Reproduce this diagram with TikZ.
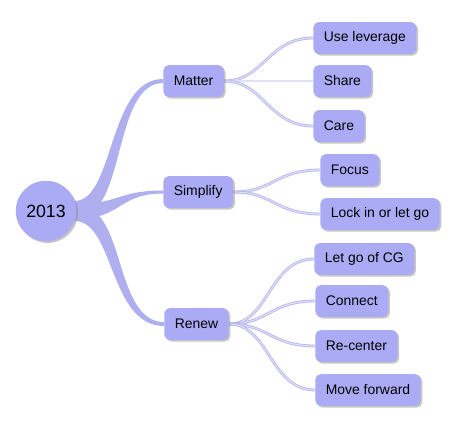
\documentclass[tikz,border=0pt]{standalone}
\usepackage{fontspec}
\setmainfont{Liberation Sans}
\usetikzlibrary{shadows,backgrounds}
\definecolor{mapfill}{RGB}{170,170,245}
\definecolor{mapbranch}{RGB}{175,175,240}
\definecolor{maplink}{RGB}{180,180,236}

\begin{document}
\begin{tikzpicture}[
  x=0.025cm, y=-0.025cm,
  % Node styles
  rootnode/.style={circle, fill=mapfill, minimum size=43pt, inner sep=0pt,
    font=\fontsize{12.6}{14}\selectfont,
    drop shadow={shadow xshift=1.2pt, shadow yshift=-1.2pt, opacity=0.45}},
  topicbox/.style={rectangle, rounded corners=4pt, fill=mapfill, anchor=west,
    minimum height=22.7pt, inner xsep=7.5pt, font=\fontsize{9.9}{11}\selectfont,
    drop shadow={shadow xshift=1.2pt, shadow yshift=-1.2pt, opacity=0.45}},
  leafbox/.style={topicbox},
  branch/.style={fill=mapbranch},
  twig/.style={draw=maplink, double=white!60!maplink, double distance=0.8pt, line width=0.6pt},
]
\useasboundingbox (0,0) rectangle (454,427);

% === Column positions ===
\def\colA{46}
\def\colB{163}
\def\colC{314}

% === Root ===
\node[rootnode] (root) at (\colA, 211) {2013};

% === Topics ===
\node[topicbox] (matter) at (\colB, 81) {Matter};
\node[topicbox] (simplify) at (\colB, 192) {Simplify};
\node[topicbox] (renew) at (\colB+1, 324) {Renew};

% === Leaves ===
\node[leafbox] (lever) at (\colC-1, 38) {Use leverage};
\node[leafbox] (share) at (\colC-1, 81) {Share};
\node[leafbox] (care) at (\colC-1, 126) {Care};
\node[leafbox] (focus) at (\colC+6, 170) {Focus};
\node[leafbox] (lock) at (\colC+6, 214) {Lock in or let go};
\node[leafbox] (letgo) at (\colC, 259) {Let go of CG};
\node[leafbox] (connect) at (\colC+1, 301) {Connect};
\node[leafbox] (recenter) at (\colC+1, 346) {Re-center};
\node[leafbox] (forward) at (\colC+1, 390) {Move forward};

\begin{scope}[on background layer]
% === Branches: root -> topics ===
% Root -> Matter
\fill[branch] ([shift={(-2,-10)}]root.east) .. controls +(40,0) and +(-55,0) .. ([shift={(0,-2)}]matter.west)
  -- ([shift={(0,2)}]matter.west) .. controls +(-50,0) and +(45,0) .. ([shift={(4,4)}]root.east) -- cycle;
% Root -> Simplify
\fill[branch] ([shift={(-2,-7)}]root.east) .. controls +(45,0) and +(-45,0) .. ([shift={(0,-1.5)}]simplify.west)
  -- ([shift={(0,1.5)}]simplify.west) .. controls +(-45,0) and +(45,0) .. ([shift={(0,8)}]root.east) -- cycle;
% Root -> Renew
\fill[branch] ([shift={(4,-4)}]root.east) .. controls +(45,0) and +(-50,0) .. ([shift={(0,-2)}]renew.west)
  -- ([shift={(0,2)}]renew.west) .. controls +(-55,0) and +(40,0) .. ([shift={(-2,10)}]root.east) -- cycle;

% === Twigs: topics -> leaves ===
% Matter
\draw[twig] (matter.east) .. controls +(40,0) and +(-45,0) .. (lever.west);
\draw[twig] (matter.east) .. controls +(40,0) and +(-45,0) .. (share.west);
\draw[twig] (matter.east) .. controls +(40,0) and +(-45,0) .. (care.west);
% Simplify
\draw[twig] (simplify.east) .. controls +(40,0) and +(-45,0) .. (focus.west);
\draw[twig] (simplify.east) .. controls +(40,0) and +(-45,0) .. (lock.west);
% Renew
\draw[twig] (renew.east) .. controls +(40,0) and +(-45,0) .. (letgo.west);
\draw[twig] (renew.east) .. controls +(40,0) and +(-45,0) .. (connect.west);
\draw[twig] (renew.east) .. controls +(40,0) and +(-45,0) .. (recenter.west);
\draw[twig] (renew.east) .. controls +(40,0) and +(-45,0) .. (forward.west);
\end{scope}

\end{tikzpicture}
\end{document}
